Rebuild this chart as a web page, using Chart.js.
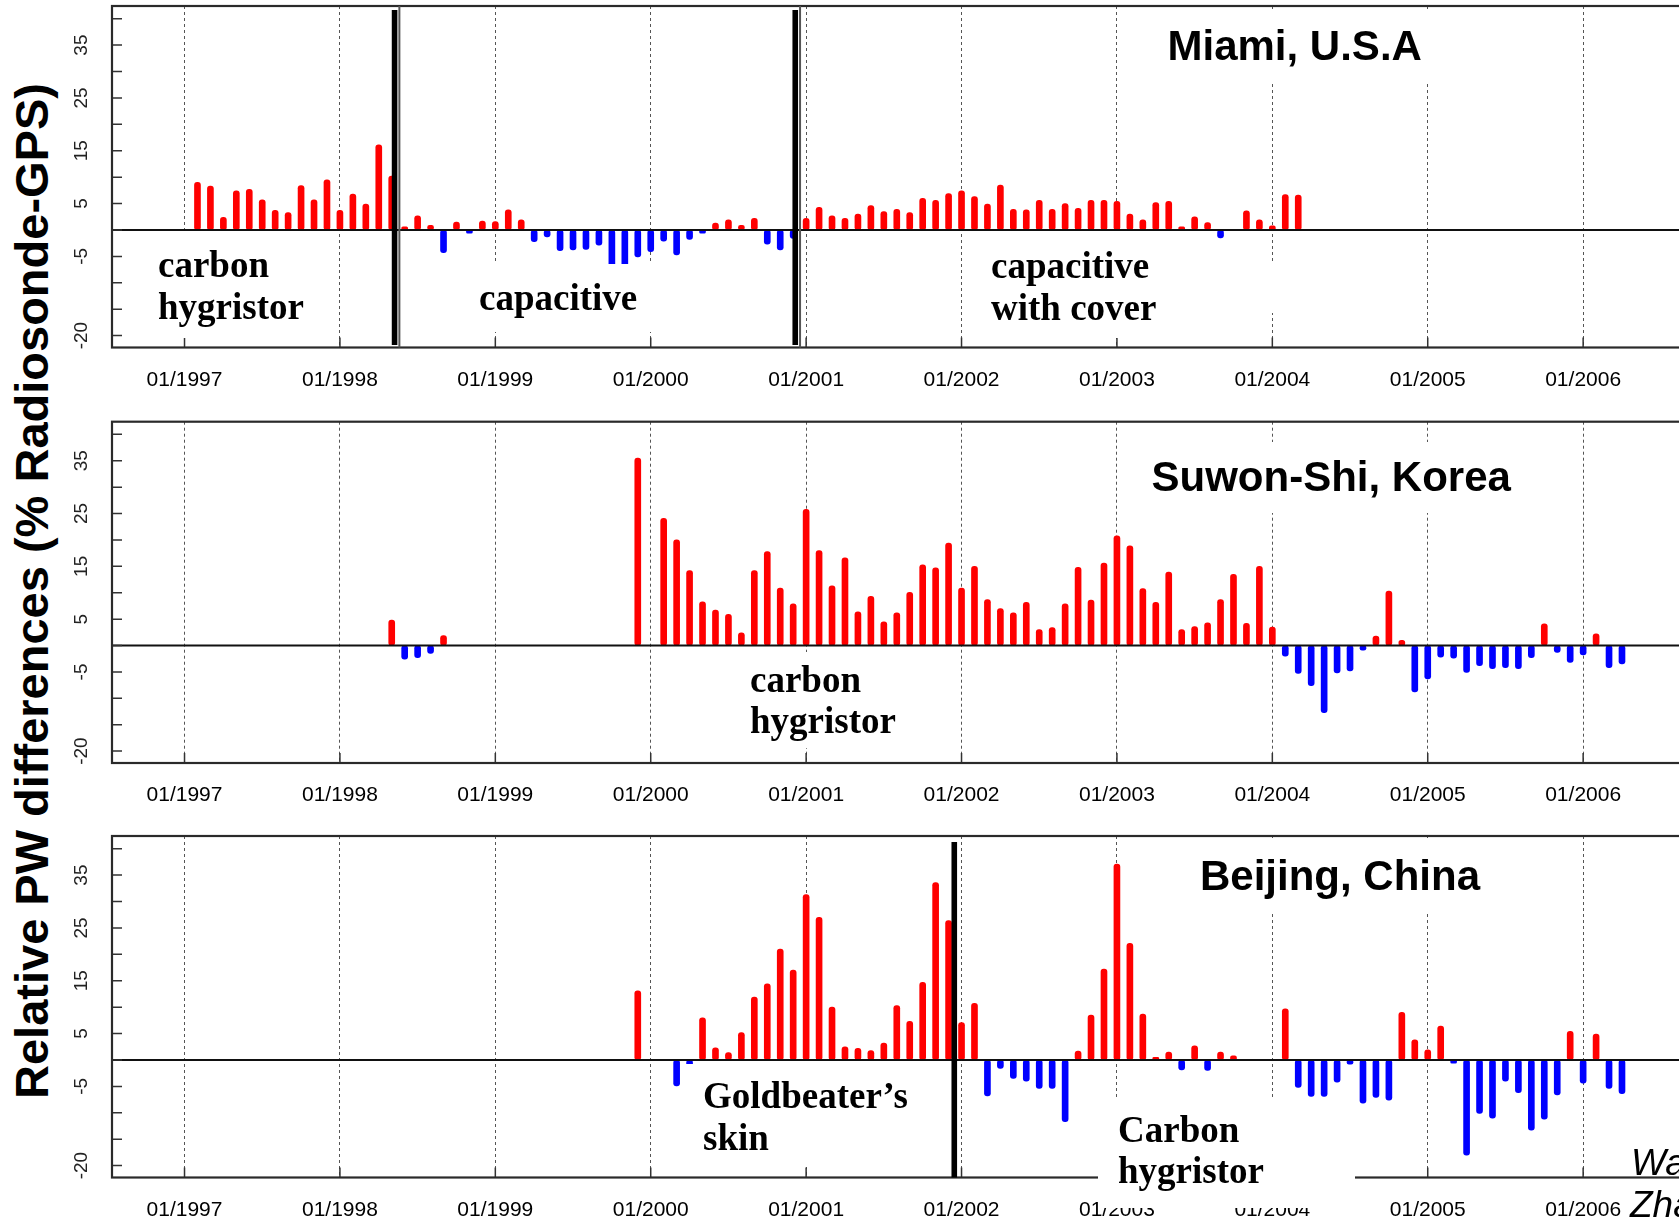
<!DOCTYPE html>
<html>
<head>
<meta charset="utf-8">
<script src="https://cdn.jsdelivr.net/npm/chart.js@4.4.1/dist/chart.umd.min.js"></script>
<style>
  html, body { margin: 0; padding: 0; background: #fff; }
  body { width: 1679px; height: 1222px; overflow: hidden; position: relative; }
  .panel { position: absolute; left: 0; width: 1710px; }
  .panel canvas { display: block; }
  #ytitle {
    position: absolute; left: 31px; top: 591px;
    transform: translate(-50%, -50%) rotate(-90deg);
    white-space: nowrap;
    font: bold 47px "Liberation Sans", Arial, sans-serif;
    color: #000;
  }
</style>
</head>
<body>
<div id="ytitle">Relative PW differences (% Radiosonde-GPS)</div>
<div class="panel" style="top:0px;height:405px"><canvas id="miami" width="1710" height="405"></canvas></div>
<div class="panel" style="top:405px;height:405px"><canvas id="suwon" width="1710" height="405"></canvas></div>
<div class="panel" style="top:810px;height:412px"><canvas id="beijing" width="1710" height="412"></canvas></div>
<script>
// x tick labels (first of January each year)
const xTickLabels = ['01/1997', '01/1998', '01/1999', '01/2000', '01/2001',
  '01/2002', '01/2003', '01/2004', '01/2005', '01/2006'];
// y tick marks every 5 %, only some of them labelled
const yTickMarks = [-20, -15, -10, -5, 0, 5, 10, 15, 20, 25, 30, 35, 40];
const yTickLabels = [35, 25, 15, 5, -5, -20];

// monthly relative PW differences (%), one value per month from the first month, null = no data
const miamiFirstMonth = '02/1997';
const miamiValues = [
  9.0, 8.3, 2.4, 7.4, 7.7, 5.7, 3.7, 3.3, 8.4, 5.7, 9.5,          // 02-12/1997
  3.7, 6.8, 4.9, 16.1, 10.2, 0.6, 2.7, 0.9, -4.3, 1.5, -0.6, 1.7, // 1998
  1.6, 3.8, 1.9, -2.2, -1.3, -3.9, -3.8, -3.7, -2.9, -7.0, -7.0, -5.1, // 1999
  -4.1, -2.1, -4.7, -1.8, -0.6, 1.3, 1.9, 0.9, 2.2, -2.7, -3.8, -1.6, // 2000
  2.2, 4.3, 2.7, 2.2, 3.0, 4.6, 3.5, 3.9, 3.3, 6.0, 5.6, 6.9,     // 2001
  7.4, 6.3, 4.9, 8.5, 3.9, 3.8, 5.6, 3.9, 5.0, 4.1, 5.6, 5.6,     // 2002
  5.4, 3.0, 1.9, 5.2, 5.4, 0.6, 2.5, 1.4, -1.5, null, 3.6, 1.9,   // 2003
  0.8, 6.7, 6.6                                                    // 2004
];

const suwonFirstMonth = '05/1998';
const suwonValues = [
  4.8, -2.6, -2.3, -1.5, 1.9, null, null, null,                   // 05-12/1998
  null, null, null, null, null, null, null, null, null, null, null, 35.5, // 1999
  null, 24.1, 20.0, 14.2, 8.3, 6.7, 5.9, 2.4, 14.2, 17.8, 10.9, 7.9, // 2000
  25.8, 18.0, 11.3, 16.6, 6.4, 9.3, 4.5, 6.2, 10.1, 15.3, 14.7, 19.4, // 2001
  10.9, 15.0, 8.7, 7.0, 6.2, 8.2, 3.0, 3.4, 7.9, 14.8, 8.6, 15.6, // 2002
  20.8, 18.9, 10.8, 8.2, 13.9, 3.0, 3.6, 4.3, 8.7, 13.5, 4.2, 15.0, // 2003
  3.5, -2.0, -5.3, -7.6, -12.7, -5.2, -4.8, -0.9, 1.8, 10.3, 1.0, -8.8, // 2004
  -6.3, -2.2, -2.4, -5.1, -3.8, -4.4, -4.2, -4.4, -2.3, 4.1, -1.3, -3.2, // 2005
  -1.8, 2.2, -4.2, -3.5                                            // 2006
];

const beijingFirstMonth = '12/1999';
const beijingValues = [
  13.1,                                                            // 12/1999
  null, null, -4.9, -1.5, 8.0, 2.3, 1.4, 5.2, 11.9, 14.4, 21.0, 17.0, // 2000
  31.3, 27.0, 10.0, 2.5, 2.2, 1.8, 3.2, 10.3, 7.3, 14.7, 33.6, 26.4, // 2001
  7.1, 10.7, -6.8, -1.6, -3.5, -4.0, -5.4, -5.4, -11.7, 1.7, 8.5, 17.2, // 2002
  37.1, 22.1, 8.7, 0.5, 1.5, -1.9, 2.7, -2.0, 1.5, 0.8, null, null, // 2003
  null, 9.7, -5.2, -6.9, -6.9, -4.2, -0.8, -8.2, -7.1, -7.6, 9.0, 3.8, // 2004
  1.9, 6.4, -0.6, -18.0, -10.1, -11.0, -4.0, -6.2, -13.3, -11.2, -6.6, 5.4, // 2005
  -4.4, 4.9, -5.4, -6.4                                            // 2006
];

// sensor changes, in months after 01/1997
const miamiSensorChanges = [16.22, 47.16];
const beijingSensorChanges = [59.44];

const SANS = '"Liberation Sans", Arial, Helvetica, sans-serif';
const SERIF = '"Liberation Serif", "Times New Roman", Times, serif';
const RED = '#ff0000';
const BLUE = '#0000ff';

// months since 01/1997
function monthIndex(label) {
  const [mm, yyyy] = label.split('/').map(Number);
  return (yyyy - 1997) * 12 + (mm - 1);
}

function toPoints(first, values) {
  const start = monthIndex(first);
  const pts = [];
  values.forEach((v, i) => { if (v !== null) pts.push({ x: start + i, y: v }); });
  return pts;
}

const serif = 'bold 37px ' + SERIF;
const title = 'bold 42px ' + SANS;

const panels = [
  {
    id: 'miami', top: 0, padTop: 6, axisH: 57.5,
    first: miamiFirstMonth, values: miamiValues,
    changes: miamiSensorChanges, thin: true, lineInset: [4, 2.5],
    boxes: [[140, 233, 272, 338], [140, 263, 312, 338], [388, 264, 665, 332],
            [975, 234, 1165, 338], [975, 263, 1290, 313], [1140, 9, 1520, 83]],
    texts: [
      { t: 'carbon', x: 158, y: 277, f: serif },
      { t: 'hygristor', x: 158, y: 318.5, f: serif },
      { t: 'capacitive', x: 479, y: 310, f: serif },
      { t: 'capacitive', x: 991, y: 277.5, f: serif },
      { t: 'with cover', x: 991, y: 319.5, f: serif },
      { t: 'Miami, U.S.A', x: 1167.5, y: 59.5, f: title }
    ]
  },
  {
    id: 'suwon', top: 405, padTop: 16.7, axisH: 47,
    first: suwonFirstMonth, values: suwonValues,
    changes: [], thin: false, lineInset: [0, 0],
    boxes: [[1140, 442, 1530, 513], [740, 652, 905, 748]],
    texts: [
      { t: 'carbon', x: 750, y: 691.5, f: serif },
      { t: 'hygristor', x: 750, y: 733, f: serif },
      { t: 'Suwon-Shi, Korea', x: 1151.5, y: 490.5, f: title }
    ]
  },
  {
    id: 'beijing', top: 810, padTop: 26, axisH: 44.5,
    first: beijingFirstMonth, values: beijingValues,
    changes: beijingSensorChanges, thin: false, lineInset: [6, 0],
    boxes: [[1140, 838, 1520, 913], [684, 1064, 925, 1167], [1098, 1097, 1355, 1208]],
    texts: [
      { t: 'Goldbeater\u2019s', x: 703, y: 1108, f: serif },
      { t: 'skin', x: 703, y: 1150, f: serif },
      { t: 'Carbon', x: 1118, y: 1141.5, f: serif },
      { t: 'hygristor', x: 1118, y: 1183, f: serif },
      { t: 'Beijing, China', x: 1200, y: 890, f: title },
      { t: 'Wang and', x: 1631, y: 1175, f: 'italic 37px ' + SANS },
      { t: 'Zhang (2008)', x: 1630, y: 1217, f: 'italic 37px ' + SANS }
    ]
  }
];

function decorPlugin(p) {
  return {
    id: 'decor',
    afterDatasetsDraw(chart) {
      const { ctx, chartArea: a, scales: { x, y } } = chart;
      ctx.save();

      // zero line
      const y0 = y.getPixelForValue(0);
      ctx.strokeStyle = '#111';
      ctx.lineWidth = 2;
      ctx.beginPath();
      ctx.moveTo(a.left, y0);
      ctx.lineTo(a.right, y0);
      ctx.stroke();

      // inward tick marks
      ctx.lineWidth = 1.5;
      ctx.strokeStyle = '#333';
      ctx.beginPath();
      yTickMarks.forEach(v => {
        const py = y.getPixelForValue(v);
        ctx.moveTo(a.left, py);
        ctx.lineTo(a.left + 10, py);
      });
      xTickLabels.forEach(l => {
        const px = x.getPixelForValue(monthIndex(l));
        ctx.moveTo(px, a.bottom);
        ctx.lineTo(px, a.bottom - 10);
      });
      ctx.stroke();

      // frame
      ctx.strokeStyle = '#2a2a2a';
      ctx.lineWidth = 2.2;
      ctx.strokeRect(a.left, a.top, a.right - a.left, a.bottom - a.top);

      // white text boxes
      ctx.fillStyle = '#fff';
      p.boxes.forEach(([x1, y1, x2, y2]) => {
        ctx.fillRect(x1, y1 - p.top, x2 - x1, y2 - y1);
      });

      // annotation texts
      ctx.fillStyle = '#000';
      ctx.textAlign = 'left';
      ctx.textBaseline = 'alphabetic';
      p.texts.forEach(o => {
        ctx.font = o.f;
        ctx.fillText(o.t, o.x, o.y - p.top);
      });

      // sensor change lines
      p.changes.forEach(m => {
        const px = x.getPixelForValue(m);
        ctx.fillStyle = '#000';
        ctx.fillRect(px - 2.8, a.top + p.lineInset[0], 5.6, a.bottom - a.top - p.lineInset[0] - p.lineInset[1]);
        if (p.thin) {
          ctx.fillStyle = '#555';
          ctx.fillRect(px + 3.8, a.top, 2, a.bottom - a.top);
        }
      });

      // rotated y tick labels
      ctx.fillStyle = '#222';
      ctx.font = '19px ' + SANS;
      ctx.textAlign = 'center';
      ctx.textBaseline = 'middle';
      yTickLabels.forEach(v => {
        ctx.save();
        ctx.translate(82, y.getPixelForValue(v));
        ctx.rotate(-Math.PI / 2);
        ctx.fillText(String(v), 0, 0);
        ctx.restore();
      });

      ctx.restore();
    }
  };
}

panels.forEach(p => {
  new Chart(document.getElementById(p.id), {
    type: 'bar',
    data: {
      datasets: [{
        data: toPoints(p.first, p.values),
        backgroundColor: c => (c.raw && c.raw.y < 0 ? BLUE : RED),
        barThickness: 6,
        borderRadius: 3,
        borderSkipped: false,
        borderWidth: 0
      }]
    },
    options: {
      responsive: false,
      animation: false,
      devicePixelRatio: 1,
      layout: { padding: { top: p.padTop, right: 5, bottom: 0, left: 0 } },
      plugins: { legend: { display: false }, tooltip: { enabled: false } },
      scales: {
        x: {
          type: 'linear',
          min: -5.6,
          max: 117.41,
          offset: false,
          afterBuildTicks: s => { s.ticks = xTickLabels.map(l => ({ value: monthIndex(l) })); },
          afterFit: s => { s.height = p.axisH; },
          grid: { color: '#555', lineWidth: 1, drawTicks: false, offset: false },
          border: { display: false, dash: [3, 3] },
          ticks: {
            autoSkip: false, maxRotation: 0, minRotation: 0, padding: 20,
            color: '#000', font: { family: SANS, size: 21 },
            callback: (v, i) => xTickLabels[i]
          }
        },
        y: {
          min: -22.25,
          max: 42.4,
          afterBuildTicks: s => { s.ticks = yTickMarks.map(v => ({ value: v })); },
          afterFit: s => { s.width = 112; },
          grid: { display: false },
          border: { display: false },
          ticks: { display: false }
        }
      }
    },
    plugins: [decorPlugin(p)]
  });
});
</script>
</body>
</html>
